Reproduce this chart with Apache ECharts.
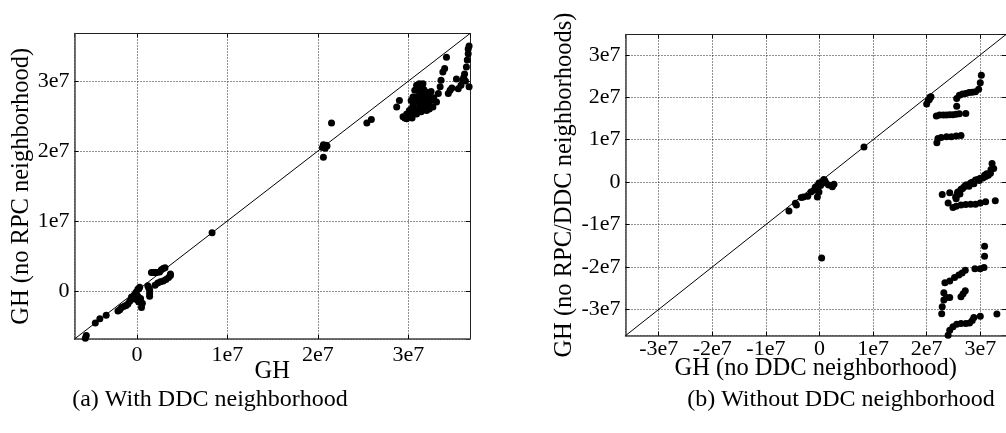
<!DOCTYPE html>
<html>
<head>
<meta charset="utf-8">
<script src="https://cdn.jsdelivr.net/npm/echarts@6/dist/echarts.min.js"></script>
<style>
  html, body { margin: 0; padding: 0; background: #fff; }
  #chart { width: 1006px; height: 433px; }
</style>
</head>
<body>
<div id="chart"></div>
<script>
// All values are in units of 1e7.
const SCALE = 1e7;

// Axis extents
const leftRange = [-0.69, 3.68];
const rightXRange = [-3.62, 3.48];
const rightYRange = [-3.62, 3.48];

// Tick positions shown as labels
const leftTicks = [0, 1, 2, 3];
const rightTicks = [-3, -2, -1, 0, 1, 2, 3];

// (a) GH vs GH (no RPC neighborhood)
const withDdcPoints = [
  [-0.56,-0.64],[-0.57,-0.68],[-0.46,-0.46],[-0.41,-0.40],[-0.34,-0.35],
  [-0.21,-0.29],[-0.19,-0.27],[-0.17,-0.24],[-0.14,-0.22],[-0.12,-0.21],[-0.10,-0.19],
  [-0.08,-0.15],[-0.06,-0.12],[-0.04,-0.09],[-0.03,-0.06],[-0.01,-0.02],[0.01,0.02],
  [0.03,0.05],[0.02,0.03],[-0.06,-0.09],
  [0.00,-0.13],[0.02,-0.16],[0.05,-0.24],[0.06,-0.18],[0.04,-0.11],[0.01,-0.08],
  [0.12,0.07],[0.13,0.04],[0.14,0.01],[0.14,-0.04],[0.14,-0.08],
  [0.16,0.26],[0.18,0.26],[0.20,0.26],[0.22,0.26],[0.25,0.27],[0.27,0.30],[0.29,0.32],[0.31,0.33],
  [0.20,0.08],[0.23,0.11],[0.26,0.13],[0.29,0.14],[0.32,0.16],[0.35,0.19],[0.37,0.22],[0.37,0.24],
  [0.83,0.83],
  [2.05,2.05],[2.07,2.07],[2.09,2.08],[2.06,2.09],[2.08,2.04],[2.10,2.07],[2.06,1.91],
  [2.15,2.40],[2.54,2.40],[2.59,2.45],
  [2.87,2.63],[2.90,2.72],[2.94,2.49],[2.96,2.47],[2.98,2.46],[2.98,2.53],[3.01,2.58],
  [3.03,2.51],[3.03,2.72],[3.05,2.77],[3.07,2.87],[3.09,2.94],[3.12,2.96],[3.16,2.96],
  [3.14,2.90],[3.09,2.77],[3.12,2.75],[3.16,2.80],[3.20,2.84],[3.18,2.72],[3.22,2.68],
  [3.25,2.72],[3.27,2.63],[3.23,2.60],[3.20,2.58],[3.14,2.56],[3.09,2.53],[3.06,2.55],
  [3.10,2.60],[3.13,2.65],[3.16,2.68],[3.05,2.65],[3.08,2.70],
  [3.10,2.70],[3.15,2.62],[3.18,2.66],[3.20,2.75],[3.22,2.80],[3.25,2.85],[3.12,2.85],
  [3.17,2.88],[3.24,2.78],[3.28,2.76],[3.03,2.60],[3.07,2.58],[3.11,2.57],[3.01,2.49],
  [3.04,2.47],[2.99,2.50],
  [3.31,2.70],[3.33,2.82],[3.35,2.92],[3.36,3.01],[3.38,3.13],[3.40,3.18],[3.42,3.34],
  [3.44,2.82],[3.46,2.87],[3.48,2.90],
  [3.53,3.03],[3.55,2.89],[3.58,2.94],[3.60,3.01],[3.62,3.10],[3.64,3.20],[3.65,3.30],
  [3.66,3.39],[3.66,3.46],[3.67,2.92],[3.61,3.05],[3.67,3.50],[3.63,3.00]
];

// (b) GH (no DDC neighborhood) vs GH (no RPC/DDC neighborhoods)
const withoutDdcPoints = [
  [-0.57,-0.68],[-0.43,-0.54],[-0.45,-0.50],[-0.34,-0.36],[-0.30,-0.35],[-0.22,-0.33],
  [-0.16,-0.23],[-0.10,-0.19],[-0.04,-0.15],[-0.01,-0.23],[-0.04,-0.35],[-0.01,-0.02],
  [0.05,0.01],[0.08,0.06],[0.12,-0.02],[0.17,-0.07],[0.24,-0.11],[0.27,-0.05],
  [0.02,-0.08],[-0.05,-0.10],[0.10,0.03],[-0.08,-0.12],
  [0.83,0.83],[0.04,-1.79],
  [2.06,2.00],[2.08,2.01],[2.03,1.93],[2.00,1.84],[2.05,1.95],
  [2.56,1.97],[2.61,2.05],[2.67,2.08],[2.73,2.09],[2.79,2.11],[2.85,2.12],[2.91,2.13],
  [2.97,2.19],[3.00,2.34],[3.02,2.52],[2.56,1.79],[2.73,1.62],
  [2.18,1.56],[2.24,1.58],[2.31,1.58],[2.37,1.58],[2.43,1.59],[2.49,1.59],[2.55,1.60],[2.61,1.61],
  [2.19,0.93],[2.21,1.03],[2.27,1.05],[2.37,1.07],[2.46,1.07],[2.55,1.09],[2.64,1.10],
  [3.22,0.44],[3.25,0.32],[3.19,0.21],[3.10,0.13],[3.00,0.09],[2.91,0.05],[2.82,-0.02],
  [2.76,-0.07],[2.70,-0.11],[2.64,-0.17],[2.58,-0.25],[2.54,-0.35],[2.43,-0.25],[2.29,-0.29],
  [2.73,-0.07],[2.67,-0.15],[2.58,-0.23],[2.55,-0.39],[2.40,-0.49],[2.49,-0.60],[2.55,-0.57],
  [2.64,-0.54],[2.73,-0.53],[2.82,-0.52],[2.91,-0.52],[3.00,-0.49],[3.10,-0.46],[3.28,-0.44],
  [2.85,0.00],[2.95,0.06],[3.05,0.10],[3.15,0.16],
  [3.20,0.30],[3.12,0.20],[3.08,0.16],[2.98,0.04],[2.88,-0.04],[2.79,-0.10],[2.62,-0.28],[2.57,-0.30],
  [3.08,-1.51],[3.08,-1.75],[3.07,-2.01],[3.00,-2.04],[2.90,-2.04],[2.72,-2.08],[2.66,-2.14],
  [2.60,-2.19],[2.52,-2.25],[2.43,-2.33],[2.34,-2.37],[2.32,-2.61],[2.32,-2.78],[2.37,-2.72],
  [2.43,-2.72],[2.29,-2.94],[2.28,-3.10],[2.64,-2.70],[2.68,-2.63],[2.72,-2.56],
  [2.40,-3.61],[2.43,-3.49],[2.49,-3.41],[2.56,-3.35],[2.64,-3.33],[2.73,-3.33],[2.80,-3.32],
  [2.85,-3.26],[2.88,-3.19],[3.00,-3.16],[3.31,-3.11]
];

const FONT = '"Liberation Serif", "DejaVu Serif", serif';
const INK = '#000';

function scaled(points) {
  return points.map(p => [p[0] * SCALE, p[1] * SCALE]);
}
function tickLabel(v) {
  const n = Math.round(v / SCALE);
  return n === 0 ? '0' : n + 'e7';
}

function mainAxis(gridIndex, range, ticks, pos, name, nameGap, labelMargin) {
  return {
    type: 'value',
    gridIndex: gridIndex,
    position: pos,
    min: range[0] * SCALE,
    max: range[1] * SCALE,
    minInterval: SCALE,
    maxInterval: SCALE,
    name: name,
    nameLocation: 'middle',
    nameGap: nameGap,
    nameMoveOverlap: false,
    nameTextStyle: { fontFamily: FONT, fontSize: 24.5, color: INK },
    axisLine: { show: true, onZero: false, lineStyle: { color: '#444', width: 1.5 } },
    axisTick: { show: true, inside: true, length: 4, lineStyle: { color: INK, width: 1 } },
    axisLabel: {
      show: true,
      showMinLabel: false,
      showMaxLabel: false,
      margin: labelMargin,
      fontFamily: FONT,
      fontSize: 22,
      color: INK,
      formatter: function (v) {
        const n = Math.round(v / SCALE);
        return ticks.indexOf(n) >= 0 && Math.abs(v - n * SCALE) < 1 ? tickLabel(v) : '';
      }
    },
    splitLine: { show: true, lineStyle: { color: '#222', width: 1, type: [1, 2] } },
    z: 2
  };
}

function mirrorAxis(gridIndex, range, pos) {
  return {
    type: 'value',
    gridIndex: gridIndex,
    position: pos,
    min: range[0] * SCALE,
    max: range[1] * SCALE,
    minInterval: SCALE,
    maxInterval: SCALE,
    axisLine: { show: true, onZero: false, lineStyle: { color: '#222', width: 1 } },
    axisTick: { show: true, inside: true, length: 4, lineStyle: { color: INK, width: 1 } },
    axisLabel: { show: false },
    splitLine: { show: false }
  };
}

const chart = echarts.init(document.getElementById('chart'), null, { renderer: 'canvas' });

chart.setOption({
  animation: false,
  backgroundColor: '#fff',
  grid: [
    { left: 74.5, top: 33.5, width: 395.5, height: 305.5, containLabel: false },
    { left: 625.5, top: 34.5, width: 389, height: 301.2, containLabel: false }
  ],
  xAxis: [
    mainAxis(0, leftRange, leftTicks, 'bottom', 'GH', 20, 5),
    mainAxis(1, rightXRange, rightTicks, 'bottom', 'GH (no DDC neighborhood)', 20, 3),
    mirrorAxis(0, leftRange, 'top'),
    mirrorAxis(1, rightXRange, 'top')
  ],
  yAxis: [
    mainAxis(0, leftRange, leftTicks, 'left', 'GH (no RPC neighborhood)', 40.5, 5),
    mainAxis(1, rightYRange, rightTicks, 'left', 'GH (no RPC/DDC neighborhoods)', 48.5, 5),
    mirrorAxis(0, leftRange, 'right'),
    mirrorAxis(1, rightYRange, 'right')
  ],
  series: [
    {
      type: 'line',
      xAxisIndex: 0, yAxisIndex: 0,
      data: [[leftRange[0] * SCALE, leftRange[0] * SCALE], [leftRange[1] * SCALE, leftRange[1] * SCALE]],
      showSymbol: false, clip: true,
      lineStyle: { color: INK, width: 1 }, z: 3
    },
    {
      type: 'scatter',
      xAxisIndex: 0, yAxisIndex: 0,
      data: scaled(withDdcPoints),
      symbolSize: 7,
      itemStyle: { color: INK, opacity: 1 },
      z: 4
    },
    {
      type: 'line',
      xAxisIndex: 1, yAxisIndex: 1,
      data: [[rightYRange[0] * SCALE, rightYRange[0] * SCALE], [rightYRange[1] * SCALE, rightYRange[1] * SCALE]],
      showSymbol: false, clip: true,
      lineStyle: { color: INK, width: 1 }, z: 3
    },
    {
      type: 'scatter',
      xAxisIndex: 1, yAxisIndex: 1,
      data: scaled(withoutDdcPoints),
      symbolSize: 7,
      itemStyle: { color: INK, opacity: 1 },
      z: 4
    }
  ],
  graphic: [
    {
      type: 'text', x: 210, y: 400,
      style: { text: '(a) With DDC neighborhood', font: '24px ' + FONT, fill: INK, align: 'center', verticalAlign: 'middle' }
    },
    {
      type: 'text', x: 841, y: 400,
      style: { text: '(b) Without DDC neighborhood', font: '24px ' + FONT, fill: INK, align: 'center', verticalAlign: 'middle' }
    }
  ]
});
</script>
</body>
</html>
